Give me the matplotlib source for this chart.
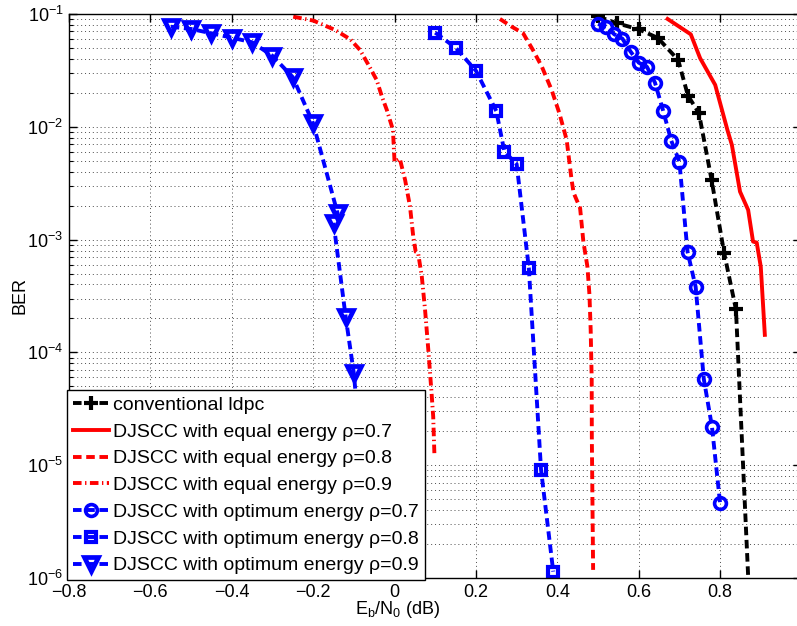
import matplotlib
matplotlib.use("Agg")
import matplotlib.pyplot as plt
from matplotlib.ticker import LogLocator, FixedLocator, NullFormatter

plt.rcParams['font.family'] = ['Liberation Sans', 'DejaVu Sans']
plt.rcParams['mathtext.fontset'] = 'custom'
plt.rcParams['mathtext.rm'] = 'Liberation Sans'
plt.rcParams['mathtext.it'] = 'Liberation Sans:italic'
plt.rcParams['mathtext.bf'] = 'Liberation Sans:bold'

# ---------------- data ----------------
conv_x = [0.50, 0.546, 0.60, 0.647, 0.697, 0.721, 0.748, 0.779, 0.810, 0.839, 0.873]
conv_y = [0.095, 0.0828, 0.0731, 0.0613, 0.0391, 0.0189, 0.0132, 0.0034, 7.6e-4, 2.4e-4, 5e-7]

eq07_x = [0.671, 0.728, 0.751, 0.788, 0.818, 0.829, 0.849, 0.869, 0.881, 0.890, 0.900, 0.910]
eq07_y = [0.0903, 0.066, 0.0405, 0.0235, 0.00937, 0.0069, 0.00266, 0.00183, 9.6e-4, 9.4e-4, 5.75e-4, 1.43e-4]

eq08_x = [0.259, 0.288, 0.316, 0.340, 0.362, 0.386, 0.405, 0.423, 0.435, 0.440, 0.456,
          0.464, 0.474, 0.479, 0.482, 0.4845, 0.4848, 0.488]
eq08_y = [0.0903, 0.0771, 0.0674, 0.048, 0.0341, 0.0212, 0.0132, 0.00764, 0.0034, 0.0026, 0.0019,
          9.6e-4, 5.75e-4, 3.23e-4, 1.58e-4, 5.7e-5, 1.8e-5, 1.18e-6]

eq09_x = [-0.249, -0.1995, -0.146, -0.109, -0.085, -0.064, -0.044, -0.031, -0.019, -0.004,
          0.0, 0.013, 0.026, 0.038, 0.046, 0.052, 0.058, 0.067, 0.075, 0.083, 0.091, 0.095, 0.098]
eq09_y = [0.0946, 0.0873, 0.0721, 0.0597, 0.048, 0.0353, 0.026, 0.0185, 0.0141, 0.0094,
          0.0049, 0.0052, 0.00337, 0.00196, 0.00106, 7.8e-4, 7.57e-4, 4.69e-4, 2.38e-4, 1.05e-4,
          4.33e-5, 2.69e-5, 1.23e-5]

opt07_x = [0.50, 0.52, 0.54, 0.56, 0.58, 0.60, 0.62, 0.64, 0.66, 0.68, 0.70, 0.72, 0.74, 0.76, 0.78, 0.80]
opt07_y = [0.0815, 0.0771, 0.066, 0.0604, 0.0464, 0.037, 0.0341, 0.0246, 0.0139, 0.00753, 0.00491,
           7.8e-4, 3.8e-4, 5.8e-5, 2.2e-5, 4.6e-6]

opt08_x = [0.10, 0.15, 0.20, 0.25, 0.27, 0.30, 0.33, 0.36, 0.39]
opt08_y = [0.0683, 0.0502, 0.0314, 0.0138, 0.0060, 0.00468, 5.6e-4, 9.1e-6, 1.14e-6]

opt09_x = [-0.55, -0.50, -0.45, -0.40, -0.35, -0.30, -0.25, -0.20, -0.14, -0.15, -0.12, -0.10, -0.08]
opt09_y = [0.0771, 0.0736, 0.0674, 0.0616, 0.0561, 0.0425, 0.0275, 0.0107, 0.00171, 0.00141,
           2.05e-4, 6.5e-5, 1e-5]

labels = ["conventional ldpc",
          "DJSCC with equal energy \u03c1=0.7",
          "DJSCC with equal energy \u03c1=0.8",
          "DJSCC with equal energy \u03c1=0.9",
          "DJSCC with optimum energy \u03c1=0.7",
          "DJSCC with optimum energy \u03c1=0.8",
          "DJSCC with optimum energy \u03c1=0.9"]

x_ticks = [-0.8, -0.6, -0.4, -0.2, 0.0, 0.2, 0.4, 0.6, 0.8, 1.0]
x_tick_labels = ["\u22120.8", "\u22120.6", "\u22120.4", "\u22120.2", "0", "0.2", "0.4", "0.6", "0.8", ""]

# ---------------- figure ----------------
fig = plt.figure(figsize=(7.97, 6.26), dpi=100)
ax = fig.add_axes([0.0866, 0.0767, 0.919, 0.901])

lw = 2.8
dash = (0, (2.2, 1.2))
dashdot = (0, (2.2, 0.9, 0.35, 0.9))

ax.plot(conv_x, conv_y, color='black', lw=lw, ls=dash, marker='+', ms=10, mew=3, label=labels[0])
ax.plot(eq07_x, eq07_y, color='red', lw=lw, ls='-', label=labels[1])
ax.plot(eq08_x, eq08_y, color='red', lw=lw, ls=dash, label=labels[2])
ax.plot(eq09_x, eq09_y, color='red', lw=lw, ls=dashdot, label=labels[3])
ax.plot(opt07_x, opt07_y, color='blue', lw=lw, ls=dash, marker='o', ms=8.5, mew=2.6, mfc='none', label=labels[4])
ax.plot(opt08_x, opt08_y, color='blue', lw=lw, ls=dash, marker='s', ms=7, mew=3.0, mfc='none', label=labels[5])
ax.plot(opt09_x, opt09_y, color='blue', lw=lw, ls=dash, marker='v', ms=10, mew=3.4, mfc='none', label=labels[6])

ax.set_yscale('log')
ax.set_xlim(-0.8, 1.0)
ax.set_ylim(1e-6, 1e-1)
ax.xaxis.set_major_locator(FixedLocator(x_ticks))
ax.set_xticklabels(x_tick_labels)
ax.yaxis.set_major_locator(LogLocator(base=10, numticks=10))
ax.yaxis.set_minor_locator(LogLocator(base=10, subs=range(2, 10), numticks=100))
ax.yaxis.set_minor_formatter(NullFormatter())

ax.grid(True, which='major', axis='both', color='0.3', ls=(0, (1, 3)), lw=0.7)
ax.grid(True, which='minor', axis='y', color='0.3', ls=(0, (1, 3)), lw=0.7)

ax.tick_params(which='both', direction='in', top=True, right=True, labelsize=13, pad=4)
ax.tick_params(which='major', length=6, width=1)
ax.tick_params(which='minor', length=3, width=0.8)
for s in ax.spines.values():
    s.set_linewidth(1.0)

ax.set_xlabel(r'E$_\mathrm{b}$/N$_\mathrm{0}$ (dB)', fontsize=13)
ax.set_ylabel('BER', fontsize=13)
ax.xaxis.set_label_coords((398 - 69) / 732.5, -0.038)
ax.yaxis.set_label_coords(-0.056, 0.5)

leg = ax.legend(loc='lower left', bbox_to_anchor=(-0.003, -0.004), borderaxespad=0,
                fancybox=False, edgecolor='black', framealpha=1, fontsize=14,
                handlelength=1.85, handletextpad=0.25, labelspacing=0.47, borderpad=0.3,
                numpoints=1)
leg.get_frame().set_linewidth(1.0)

fig.savefig('out.png', dpi=100)
